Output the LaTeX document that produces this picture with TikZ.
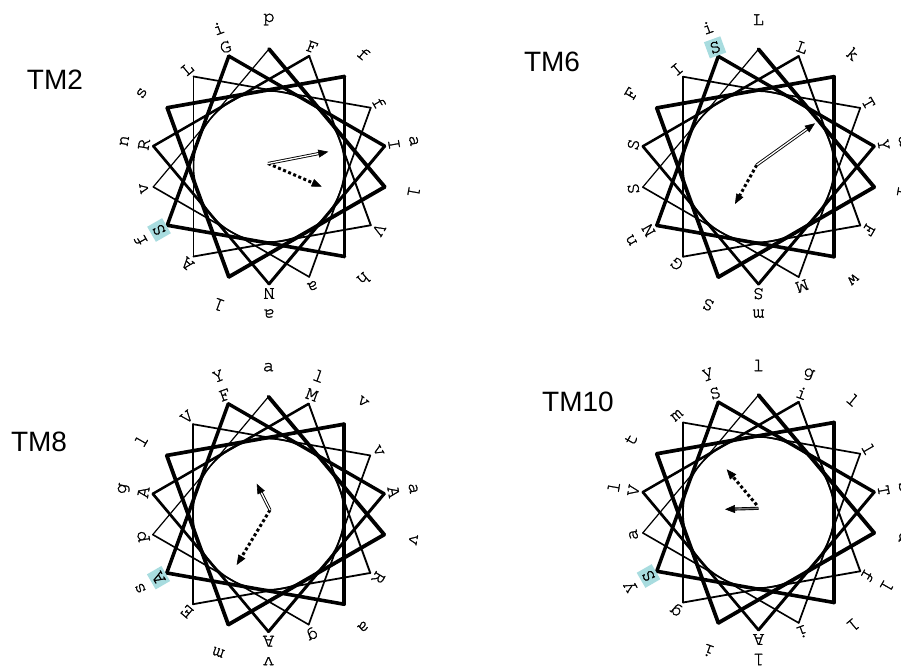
\documentclass[tikz,border=0pt]{standalone}
\usepackage{fontspec}
\newfontfamily\tmfont{Liberation Sans}
\newfontfamily\resfont{texgyrecursor}[Extension=.otf, UprightFont=*-regular, FakeBold=1.4]
\usetikzlibrary{arrows.meta,calc}
\definecolor{hilite}{HTML}{A8DCDF}
\tikzset{
  res/.style={font=\resfont\fontsize{19}{19}\selectfont, anchor=center},
  tmlabel/.style={font=\tmfont\fontsize{28}{28}\selectfont, inner sep=0pt},
  hubring/.style={line width=1.5pt},
  vecshaft/.style={draw=black, line width=0.9pt, double distance=1.3pt},
  dotshaft/.style={line width=3pt, dash pattern=on 3pt off 2.5pt},
  vechead/.style={line width=0.6pt, -{Triangle[length=10pt,width=8pt]}},
}
% 18-residue wheel: chords 100 degrees apart, getting thinner along the sequence
\newcommand\wheelframe{%
  \foreach \k/\w in {0/3.8,1/3.8,2/3.8,3/3.7,4/3.7,5/3.6,6/3.5,7/3.4,8/3.0,
                     9/2.7,10/2.5,11/1.9,12/1.8,13/1.8,14/1.7,15/1.7,16/1.6,17/1.2}
    \draw[line width=\w pt, line cap=round] ({90-100*\k}:117.5) -- ({-10-100*\k}:117.5);
  \draw[hubring] (0,0) circle (75.5);
}
% residue letters: angle / radius / letter / fill / padding
\newcommand\residues[2]{%
  \foreach \a/\rr/\t/\f/\p in {#2}
    \node[res, fill=\f, inner sep=\p pt, rotate=\a-90] (#1-\a-\rr) at (\a:\rr) {\t};
}
\begin{document}
\begin{tikzpicture}[x=1pt,y=1pt]
\useasboundingbox (0,0) rectangle (901,665);
\clip (0,0) rectangle (901,665);

% ---------------- TM2 ----------------
\node[tmlabel] (tmtwo) at (55,585) {TM2};
\begin{scope}[shift={(269,498.5)}]
  \wheelframe
  \residues{tmtwo}{210/127/S/hilite/3,110/127/G/none/0,10/127/I/none/0,270/127/N/none/0,
    170/127/R/none/0,70/127/F/none/0,330/127/V/none/0,230/127/A/none/0,130/127/L/none/0,
    30/127/f/none/0,290/127/a/none/0,190/127/v/none/0,
    90/147/p/none/0,350/147/l/none/0,250/147/l/none/0,150/147/s/none/0,50/147/f/none/0,
    310/147/h/none/0,210/148/f/none/0,110/147/i/none/0,10/147/a/none/0,270/147/a/none/0,
    170/147/n/none/0}
  \coordinate (tmtwo-o) at (-1,3);
  \coordinate (tmtwo-s) at (59.3,14.8);
  \coordinate (tmtwo-d) at (52.7,-20.2);
  \draw[dotshaft, shorten >=8pt] (tmtwo-o) -- (tmtwo-d);
  \draw[vechead] ($(tmtwo-d)!10pt!(tmtwo-o)$) -- (tmtwo-d);
  \draw[vecshaft, double=white, shorten >=8pt] (tmtwo-o) -- (tmtwo-s);
  \draw[vechead] ($(tmtwo-s)!10pt!(tmtwo-o)$) -- (tmtwo-s);
\end{scope}

% ---------------- TM6 ----------------
\node[tmlabel] (tmsix) at (552,603) {TM6};
\begin{scope}[shift={(758.5,498.3)}]
  \wheelframe
  \residues{tmsix}{210/127/N/none/0,110/127/S/hilite/3,10/127/Y/none/0,270/127/S/none/0,
    170/127/S/none/0,70/127/L/none/0,330/127/F/none/0,230/127/G/none/0,130/127/I/none/0,
    30/127/T/none/0,290/127/M/none/0,190/127/S/none/0,
    90/147/L/none/0,350/147/l/none/0,250/147/S/none/0,150/147/F/none/0,50/147/k/none/0,
    310/147/w/none/0,210/147/n/none/0,110/148/i/none/0,10/147/a/none/0,270/147/m/none/0}
  \coordinate (tmsix-o) at (-1.8,1.7);
  \coordinate (tmsix-s) at (56.5,43.4);
  \coordinate (tmsix-d) at (-23.5,-37.3);
  \draw[dotshaft, shorten >=8pt] (tmsix-o) -- (tmsix-d);
  \draw[vechead] ($(tmsix-d)!10pt!(tmsix-o)$) -- (tmsix-d);
  \draw[vecshaft, double=white, shorten >=8pt] (tmsix-o) -- (tmsix-s);
  \draw[vechead] ($(tmsix-s)!10pt!(tmsix-o)$) -- (tmsix-s);
\end{scope}

% ---------------- TM8 ----------------
\node[tmlabel] (tmeight) at (39,223) {TM8};
\begin{scope}[shift={(268.5,150.8)}]
  \wheelframe
  \residues{tmeight}{210/127/A/hilite/3,110/127/F/none/0,10/127/A/none/0,270/127/A/none/0,
    170/127/A/none/0,70/127/M/none/0,330/127/R/none/0,230/127/E/none/0,130/127/V/none/0,
    30/127/v/none/0,290/127/g/none/0,190/127/p/none/0,
    90/147/a/none/0,350/147/v/none/0,250/147/m/none/0,150/147/l/none/0,50/147/v/none/0,
    310/147/a/none/0,210/148/s/none/0,110/147/Y/none/0,10/147/a/none/0,270/147/v/none/0,
    170/147/g/none/0,70/147/l/none/0}
  \coordinate (tmeight-o) at (1.5,4.2);
  \coordinate (tmeight-s) at (-11.8,30.5);
  \coordinate (tmeight-d) at (-31.8,-50.8);
  \draw[dotshaft, shorten >=8pt] (tmeight-o) -- (tmeight-d);
  \draw[vechead] ($(tmeight-d)!10pt!(tmeight-o)$) -- (tmeight-d);
  \draw[vecshaft, double=white, shorten >=8pt] (tmeight-o) -- (tmeight-s);
  \draw[vechead] ($(tmeight-s)!10pt!(tmeight-o)$) -- (tmeight-s);
\end{scope}

% ---------------- TM10 ----------------
\node[tmlabel] (tmten) at (578,263) {TM10};
\begin{scope}[shift={(758.5,152.5)}]
  \wheelframe
  \residues{tmten}{210/127/S/hilite/3,110/127/S/none/0,10/127/T/none/0,270/127/A/none/0,
    170/127/V/none/0,70/127/i/none/0,330/126/f/none/0,230/127/g/none/0,130/127/m/none/0,
    30/127/l/none/0,290/127/i/none/0,190/127/a/none/0,
    90/147/l/none/0,350/147/a/none/0,250/147/i/none/0,150/147/t/none/0,50/147/l/none/0,
    310/147/l/none/0,210/148/y/none/0,110/147/y/none/0,10/147/s/none/0,270/147/l/none/0,
    170/147/l/none/0,70/147/g/none/0,330/148/l/none/0}
  \coordinate (tmten-o) at (0,4.2);
  \coordinate (tmten-p) at (-1.8,7.5);
  \coordinate (tmten-s) at (-33.5,3.2);
  \coordinate (tmten-d) at (-31.8,43.2);
  \draw[dotshaft, shorten >=8pt] (tmten-p) -- (tmten-d);
  \draw[vechead] ($(tmten-d)!10pt!(tmten-p)$) -- (tmten-d);
  \draw[vecshaft, double=gray, shorten >=8pt] (tmten-o) -- (tmten-s);
  \draw[vechead] ($(tmten-s)!10pt!(tmten-o)$) -- (tmten-s);
\end{scope}
\end{tikzpicture}
\end{document}
